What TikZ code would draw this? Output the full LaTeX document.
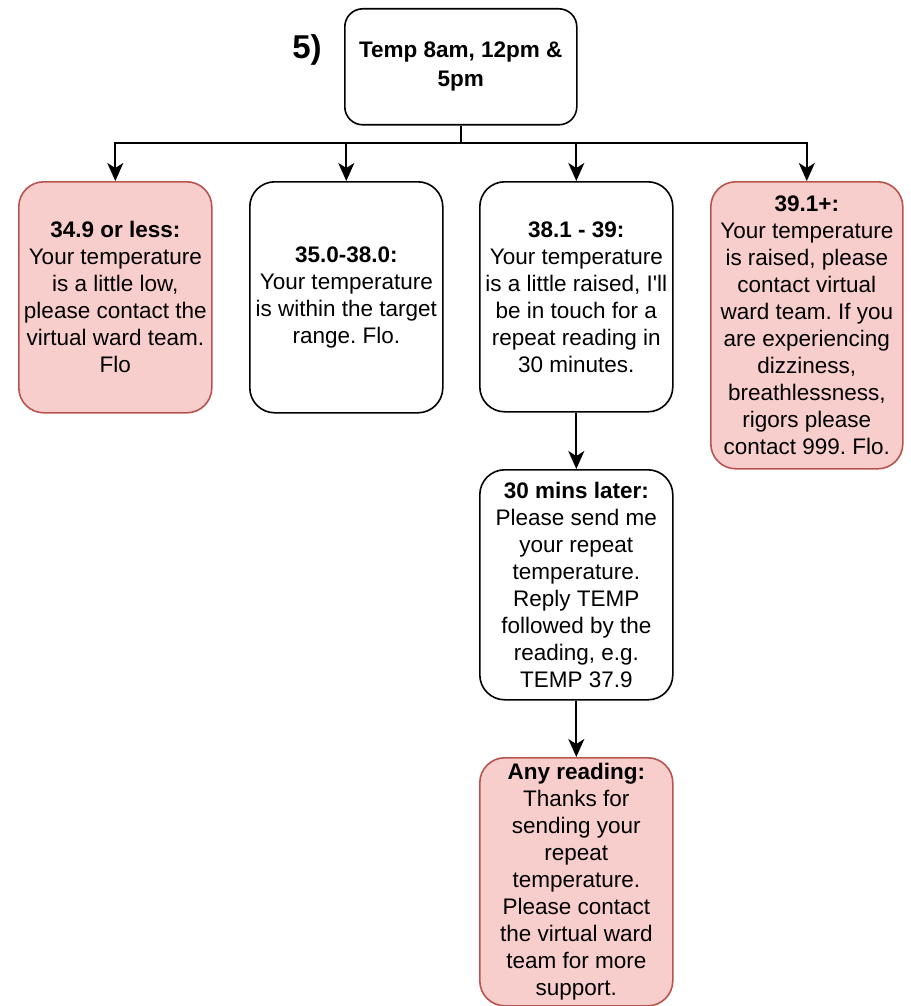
\documentclass[tikz,border=0pt]{standalone}
\usepackage{fontspec}
\setmainfont{Liberation Sans}
\newfontfamily\plainsans{Liberation Sans}[Ligatures=TeXOff]
\usetikzlibrary{arrows.meta}
\definecolor{pinkfill}{HTML}{F8CECC}
\definecolor{pinkdraw}{HTML}{B85450}
\frenchspacing
\begin{document}
\begin{tikzpicture}[x=1pt,y=-1pt,
 box/.style={draw=black, line width=1.6pt, rounded corners=25pt, minimum width=193pt, inner sep=0pt, align=center, font=\fontsize{22.5}{27}\selectfont, anchor=north west},
 pinkbox/.style={box, fill=pinkfill, draw=pinkdraw},
 arr/.style={line width=1.8pt, -{Stealth[length=18pt,width=16pt,inset=5pt]}},
 link/.style={line width=1.8pt}]
\useasboundingbox (0,0) rectangle (910,1006);
\node[box, rounded corners=18pt, minimum width=232pt, minimum height=116pt, font=\bfseries\fontsize{22.5}{29}\selectfont] (top) at (344,8) {Temp 8am, 12pm \&\\5pm};
\node[font=\bfseries\fontsize{33}{36}\selectfont] (lbl) at (307,50) {5)};
\node[pinkbox, minimum height=231pt] (b1) at (18,181) {\textbf{34.9 or less:}\\Your temperature\\is a little low,\\please contact the\\virtual ward team.\\Flo};
\node[box, minimum height=231pt] (b2) at (249,181) {\textbf{35.0-38.0:}\\Your temperature\\is within the target\\range. Flo.};
\node[box, minimum height=230pt] (b3) at (479,181) {\textbf{38.1 - 39:}\\Your temperature\\is a little raised, {\plainsans I'll}\\be in touch for a\\repeat reading in\\30 minutes.};
\node[pinkbox, minimum width=192pt, minimum height=287pt] (b4) at (710,181) {\textbf{39.1+:}\\Your temperature\\is raised, please\\contact virtual\\ward team. If you\\are experiencing\\dizziness,\\breathlessness,\\rigors please\\contact 999. Flo.};
\node[box, minimum height=230pt] (b5) at (479,469) {\textbf{30 mins later:}\\Please send me\\your repeat\\temperature.\\Reply TEMP\\followed by the\\reading, e.g.\\TEMP 37.9};
\node[pinkbox, minimum height=248pt] (b6) at (479,757) {\textbf{Any reading:}\\Thanks for\\sending your\\repeat\\temperature.\\Please contact\\the virtual ward\\team for more\\support.};
\coordinate (j) at (top.south |- 0,143);
\draw[link] (top.south) -- (j);
\draw[arr] (j) -| (b1.north);
\draw[arr] (j) -| (b2.north);
\draw[arr] (j) -| (b3.north);
\draw[arr] (j) -| (b4.north);
\draw[arr] (b3.south) -- (b5.north);
\draw[arr] (b5.south) -- (b6.north);
\end{tikzpicture}
\end{document}
